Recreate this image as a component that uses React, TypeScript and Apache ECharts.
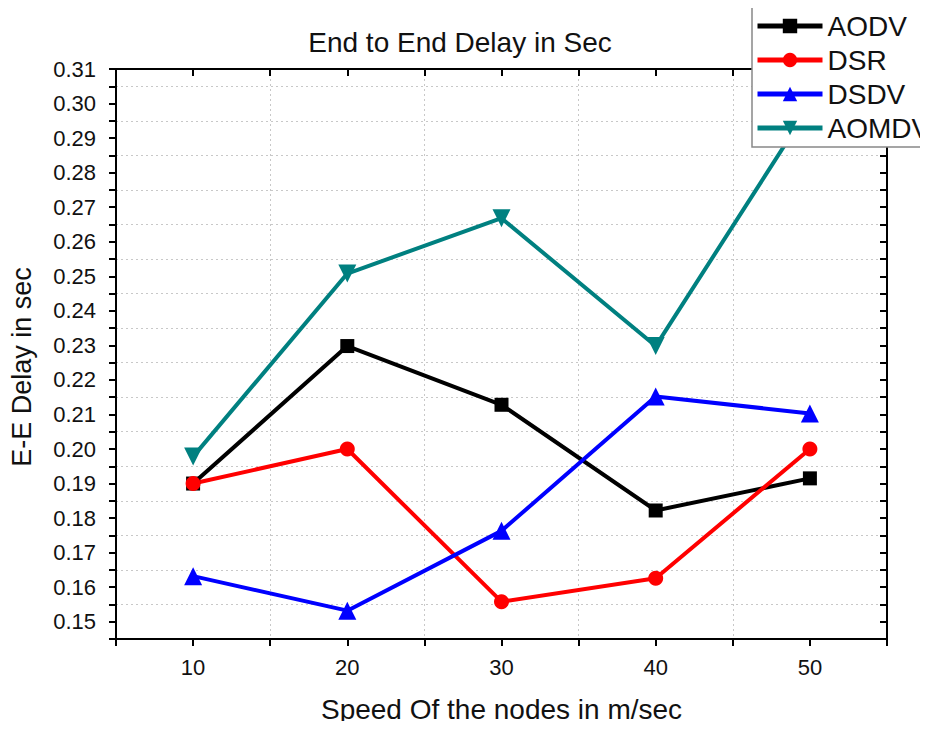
import React, { useEffect, useRef } from "react";
import * as echarts from "echarts";

const speeds = [10, 20, 30, 40, 50];
const aodv = [0.19, 0.2298, 0.2128, 0.1822, 0.1915];
const dsr = [0.19, 0.2, 0.1558, 0.1626, 0.2];
const dsdv = [0.1632, 0.1532, 0.1763, 0.2152, 0.2103];
const aomdv = [0.1978, 0.2508, 0.2668, 0.2298, 0.2993];
const seriesNames = ["AODV", "DSR", "DSDV", "AOMDV"];

const FONT = "'Liberation Sans', Arial, sans-serif";

export default function App() {
  const ref = useRef<HTMLDivElement>(null);
  useEffect(() => {
    if (!ref.current) return;
    const chart = echarts.init(ref.current, null, { renderer: "svg" });
    const pts = (vals: number[]) => speeds.map((s, i) => [s, vals[i]]);
    const mk = (name: string, vals: number[], color: string, symbol: string, size: number, rotate = 0) => ({
      name,
      type: "line",
      data: pts(vals),
      xAxisIndex: 0,
      yAxisIndex: 0,
      symbol,
      symbolSize: size,
      symbolRotate: rotate,
      showSymbol: true,
      lineStyle: { color, width: 4 },
      itemStyle: { color },
      z: 5,
    });
    const yLabel = (v: number) => (Math.round(v * 1000) % 10 === 0 ? v.toFixed(2) : "");
    const xLabel = (v: number) => (Math.round(v) % 10 === 0 ? String(Math.round(v)) : "");
    const axisLine = { show: true, lineStyle: { color: "#000", width: 2 } };
    chart.setOption({
      animation: false,
      backgroundColor: "#fff",
      textStyle: { fontFamily: FONT },
      grid: { left: 116, right: 41, top: 69, bottom: 90, outerBoundsMode: "none", containLabel: false },
      xAxis: [
        {
          type: "value",
          min: 5,
          max: 55,
          interval: 5,
          position: "bottom",
          axisLine,
          axisTick: { show: true, inside: false, length: 7, lineStyle: { color: "#000", width: 2 } },
          axisLabel: { formatter: xLabel, color: "#111", fontSize: 22, margin: 17, fontFamily: FONT },
          splitLine: { show: false },
          name: "Speed Of the nodes in m/sec",
          nameLocation: "middle",
          nameGap: 70,
          nameTextStyle: { fontSize: 28, color: "#111", fontFamily: FONT, verticalAlign: "middle" },
        },
        {
          type: "value",
          min: 5,
          max: 55,
          interval: 10,
          position: "top",
          axisLine,
          axisTick: { show: false },
          axisLabel: { show: false },
          splitLine: { show: true, lineStyle: { color: "#c8c8c8", type: [2, 3], width: 1 } },
        },
        {
          type: "value",
          min: 5,
          max: 55,
          interval: 5,
          position: "top",
          axisLine,
          axisTick: { show: true, inside: true, length: 7, lineStyle: { color: "#000", width: 2 } },
          axisLabel: { show: false },
          splitLine: { show: false },
        },
      ],
      yAxis: [
        {
          type: "value",
          min: 0.145,
          max: 0.31,
          interval: 0.005,
          position: "left",
          axisLine,
          axisTick: { show: true, inside: false, length: 7, lineStyle: { color: "#000", width: 2 } },
          axisLabel: { formatter: yLabel, color: "#111", fontSize: 22, margin: 20, fontFamily: FONT },
          splitLine: { show: false },
        },
        {
          type: "value",
          min: 0.145,
          max: 0.31,
          interval: 0.01,
          position: "left",
          axisLine: { show: false },
          axisTick: { show: false },
          axisLabel: { show: false },
          splitLine: { show: true, lineStyle: { color: "#c8c8c8", type: [2, 3], width: 1 } },
        },
        {
          type: "value",
          min: 0.145,
          max: 0.31,
          interval: 0.005,
          position: "right",
          axisLine,
          axisTick: { show: true, inside: true, length: 7, lineStyle: { color: "#000", width: 2 } },
          axisLabel: { show: false },
          splitLine: { show: false },
        },
      ],
      legend: {
        data: seriesNames,
        orient: "vertical",
        left: 752,
        top: 7,
        padding: [4, 60, 4, 3],
        itemWidth: 65,
        itemHeight: 18,
        itemGap: 4,
        backgroundColor: "#fff",
        borderColor: "#888",
        borderWidth: 1.5,
        lineStyle: { width: 5 },
        textStyle: { fontSize: 28, color: "#111", lineHeight: 30, fontFamily: FONT },
        z: 10,
      },
      graphic: [
        {
          type: "text",
          x: 460,
          y: 42,
          style: {
            text: "End to End Delay in Sec",
            fontSize: 28,
            fontFamily: FONT,
            fill: "#111",
            textAlign: "center",
            textVerticalAlign: "middle",
          },
        },
        {
          type: "text",
          x: 22,
          y: 367,
          rotation: Math.PI / 2,
          style: {
            text: "E-E Delay in sec",
            fontSize: 27,
            fontFamily: FONT,
            fill: "#111",
            textAlign: "center",
            textVerticalAlign: "middle",
          },
        },
      ],
      series: [
        mk("AODV", aodv, "#000000", "rect", 14),
        mk("DSR", dsr, "#ff0000", "circle", 15),
        mk("DSDV", dsdv, "#0000ff", "triangle", 18),
        mk("AOMDV", aomdv, "#008080", "triangle", 18, 180),
      ],
    });
    return () => chart.dispose();
  }, []);
  return <div ref={ref} style={{ width: 928, height: 729, margin: -8 }} />;
}
